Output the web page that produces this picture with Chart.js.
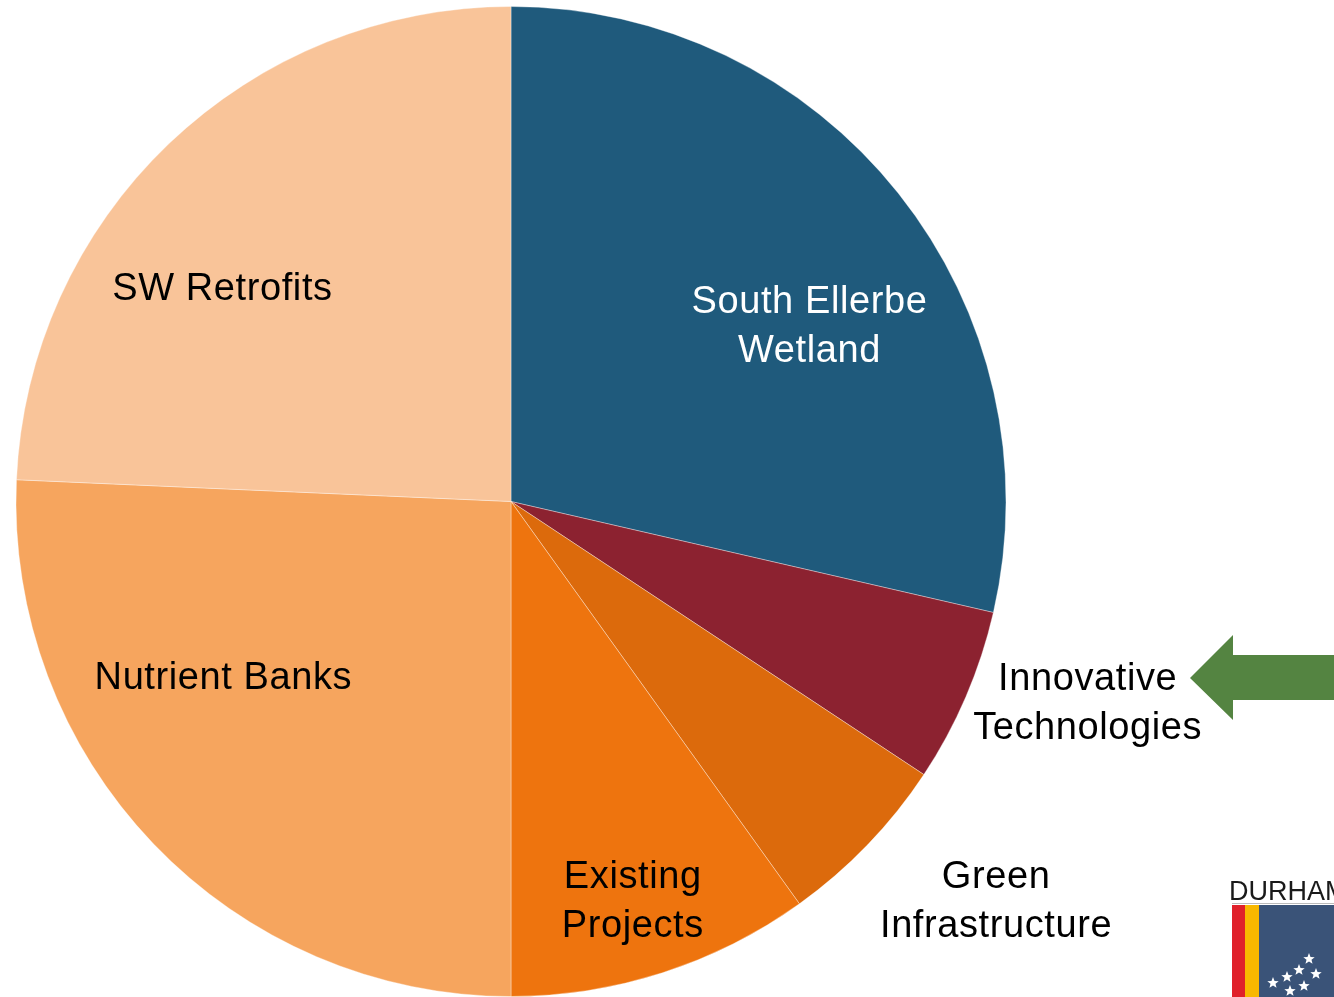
<!DOCTYPE html>
<html>
<head>
<meta charset="utf-8">
<script src="https://cdn.jsdelivr.net/npm/chart.js@4.4.0/dist/chart.umd.min.js"></script>
<style>
html,body{margin:0;padding:0;background:#fff;overflow:hidden;}
#wrap{position:relative;width:1334px;height:997px;}
</style>
</head>
<body>
<div id="wrap"><canvas id="c" width="1334" height="997"></canvas></div>
<script>
const categories = ["South Ellerbe Wetland","Innovative Technologies","Green Infrastructure","Existing Projects","Nutrient Banks","SW Retrofits"];
const labelLines = [["South Ellerbe","Wetland"],["Innovative","Technologies"],["Green","Infrastructure"],["Existing","Projects"],["Nutrient Banks"],["SW Retrofits"]];
const values = [28.6, 5.7, 5.8, 9.9, 25.7, 24.3];
const colors = ["#1F5A7C","#8C2230","#DC6A0C","#EE740E","#F6A55E","#F9C499"];
const textColors = ["#FFFFFF","#000000","#000000","#000000","#000000","#000000"];
// label anchor offsets in units of the pie radius
const labelOffsets = [[0.603,-0.352],[1.165,0.410],[0.980,0.810],[0.246,0.810],[-0.581,0.358],[-0.583,-0.428]];

const labelPlugin = {
  id:'labels',
  afterDraw(chart){
    const ctx = chart.ctx;
    const arc = chart.getDatasetMeta(0).data[0];
    const cx = arc.x, cy = arc.y, r = arc.outerRadius;
    ctx.save();
    ctx.font = '38px "Liberation Sans", Arial, sans-serif';
    if ('letterSpacing' in ctx) ctx.letterSpacing = '0.6px';
    ctx.textAlign = 'center';
    ctx.textBaseline = 'middle';
    labelLines.forEach((lines,i)=>{
      const x = cx + labelOffsets[i][0]*r;
      const y = cy + labelOffsets[i][1]*r;
      ctx.fillStyle = textColors[i];
      const lh = 49;
      lines.forEach((t,j)=>{
        ctx.fillText(t, x, y + (j-(lines.length-1)/2)*lh);
      });
    });
    if ('letterSpacing' in ctx) ctx.letterSpacing = '0px';
    // green arrow pointing at Innovative Technologies
    ctx.fillStyle = '#548441';
    ctx.beginPath();
    ctx.moveTo(1190,678);
    ctx.lineTo(1233,635);
    ctx.lineTo(1233,655);
    ctx.lineTo(1334,655);
    ctx.lineTo(1334,700);
    ctx.lineTo(1233,700);
    ctx.lineTo(1233,720);
    ctx.closePath();
    ctx.fill();
    // Durham logo
    ctx.fillStyle = '#1a1a1a';
    ctx.font = '27px "Liberation Sans Narrow", "Liberation Sans", Arial, sans-serif';
    ctx.textAlign = 'left';
    ctx.textBaseline = 'alphabetic';
    ctx.fillText('DURHAM', 1229, 900);
    ctx.fillStyle = '#bbb';
    ctx.fillRect(1232,903,102,1);
    ctx.fillStyle = '#3A5378';
    ctx.fillRect(1232,905,102,92);
    ctx.fillStyle = '#E0202A';
    ctx.fillRect(1232,905,13,92);
    ctx.fillStyle = '#F8B800';
    ctx.fillRect(1245,905,14,92);
    ctx.fillStyle = '#fff';
    const stars = [[1309,959],[1316,974],[1299,970],[1287,977],[1304,986],[1273,983],[1290,991]];
    stars.forEach(s=>{
      ctx.beginPath();
      for(let k=0;k<10;k++){
        const rr = k%2===0?6:2.6;
        const a = -Math.PI/2 + k*Math.PI/5;
        const px = s[0]+rr*Math.cos(a), py = s[1]+rr*Math.sin(a);
        if(k===0) ctx.moveTo(px,py); else ctx.lineTo(px,py);
      }
      ctx.closePath(); ctx.fill();
    });
    ctx.restore();
  }
};

new Chart(document.getElementById('c'),{
  type:'pie',
  data:{labels:categories,datasets:[{data:values,backgroundColor:colors,borderColor:'rgba(255,255,255,0.35)',borderWidth:1}]},
  options:{
    responsive:false,
    animation:false,
    rotation:0,
    layout:{padding:{left:15,right:327,top:6,bottom:0}},
    plugins:{legend:{display:false},tooltip:{enabled:false}}
  },
  plugins:[labelPlugin]
});
</script>
</body>
</html>
